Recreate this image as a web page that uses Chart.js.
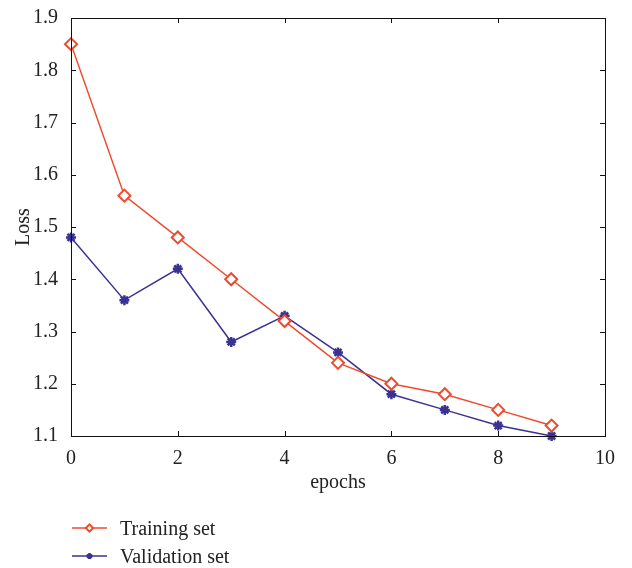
<!DOCTYPE html>
<html>
<head>
<meta charset="utf-8">
<script src="https://cdn.jsdelivr.net/npm/chart.js@4.4.0/dist/chart.umd.min.js"></script>
<style>
  html, body { margin: 0; padding: 0; background: #fff; }
  #wrap { width: 632px; height: 568px; }
</style>
</head>
<body>
<div id="wrap"><canvas id="chart-line"></canvas></div>
<script>
const epochs = [0, 1, 2, 3, 4, 5, 6, 7, 8, 9];
const trainingLoss = [1.85, 1.56, 1.48, 1.40, 1.32, 1.24, 1.20, 1.18, 1.15, 1.12];
const validationLoss = [1.48, 1.36, 1.42, 1.28, 1.33, 1.26, 1.18, 1.15, 1.12, 1.10];
const xTicks = [0, 2, 4, 6, 8, 10];
const yTicks = [1.1, 1.2, 1.3, 1.4, 1.5, 1.6, 1.7, 1.8, 1.9];

const RED = '#f04a2c';
const BLUE = '#3a3293';
const FONT = '"Liberation Serif", "DejaVu Serif", serif';
const FS = 20;

// box around plot with inward ticks on all four sides
const boxPlugin = {
    id: 'box',
    afterDatasetsDraw(chart) {
        const { ctx, chartArea: a, scales } = chart;
        ctx.save();
        ctx.strokeStyle = '#111';
        ctx.lineWidth = 1;
        ctx.strokeRect(a.left + 0.5, a.top + 0.5, a.right - a.left, a.bottom - a.top);
        const len = 5;
        ctx.beginPath();
        xTicks.forEach(v => {
            const x = Math.round(scales.x.getPixelForValue(v)) + 0.5;
            ctx.moveTo(x, a.bottom); ctx.lineTo(x, a.bottom - len);
            ctx.moveTo(x, a.top); ctx.lineTo(x, a.top + len);
        });
        yTicks.forEach(v => {
            const y = Math.round(scales.y.getPixelForValue(v)) + 0.5;
            ctx.moveTo(a.left, y); ctx.lineTo(a.left + len, y);
            ctx.moveTo(a.right, y); ctx.lineTo(a.right - len, y);
        });
        ctx.stroke();
        ctx.restore();
    }
};

// legend below the axis title, line + marker + label
const legendPlugin = {
    id: 'bottomLegend',
    afterDraw(chart) {
        const ctx = chart.ctx;
        const x0 = 72, x1 = 107, rows = [528, 556];
        chart.data.datasets.forEach((ds, i) => {
            const y = rows[i];
            ctx.save();
            ctx.strokeStyle = ds.borderColor;
            ctx.lineWidth = 1.5;
            ctx.beginPath();
            ctx.moveTo(x0, y); ctx.lineTo(x1, y);
            ctx.stroke();
            ctx.fillStyle = ds.pointBackgroundColor;
            ctx.strokeStyle = ds.borderColor;
            ctx.lineWidth = ds.pointBorderWidth;
            Chart.helpers.drawPoint(ctx, {
                pointStyle: ds.pointStyle,
                radius: ds.pointRadius * 0.6,
                borderWidth: ds.pointBorderWidth
            }, (x0 + x1) / 2, y);
            ctx.fillStyle = '#222';
            ctx.font = FS + 'px ' + FONT;
            ctx.textBaseline = 'middle';
            ctx.fillText(ds.label, 120, y + 2);
            ctx.restore();
        });
    }
};

const ctx = document.getElementById('chart-line').getContext('2d');
new Chart(ctx, {
    type: 'line',
    data: {
        datasets: [{
            label: 'Training set',
            data: epochs.map((e, i) => ({ x: e, y: trainingLoss[i] })),
            borderColor: RED,
            backgroundColor: RED,
            pointBackgroundColor: '#fff',
            pointStyle: 'rectRot',
            pointRadius: 6,
            pointBorderWidth: 2,
            borderWidth: 1.5,
            tension: 0
        }, {
            label: 'Validation set',
            data: epochs.map((e, i) => ({ x: e, y: validationLoss[i] })),
            borderColor: BLUE,
            backgroundColor: BLUE,
            pointBackgroundColor: BLUE,
            pointStyle: 'star',
            pointRadius: 5,
            pointBorderWidth: 2.5,
            borderWidth: 1.5,
            tension: 0
        }]
    },
    options: {
        responsive: true,
        maintainAspectRatio: false,
        animation: false,
        clip: false,
        layout: { padding: { top: 18, right: 27, bottom: 73, left: 0 } },
        plugins: {
            legend: { display: false },
            tooltip: { enabled: false }
        },
        scales: {
            x: {
                type: 'linear',
                min: 0,
                max: 10,
                afterFit: s => { s.height = 59; },
                afterBuildTicks: s => { s.ticks = xTicks.map(v => ({ value: v })); },
                grid: { display: false },
                border: { display: false },
                ticks: { padding: 3, color: '#222', font: { family: FONT, size: FS } },
                title: {
                    display: true, text: 'epochs', color: '#222',
                    padding: 0, font: { family: FONT, size: FS }
                }
            },
            y: {
                min: 1.1,
                max: 1.9,
                afterFit: s => { s.width = 71; },
                afterBuildTicks: s => { s.ticks = yTicks.map(v => ({ value: v })); },
                grid: { display: false },
                border: { display: false },
                ticks: {
                    padding: 5, color: '#222', font: { family: FONT, size: FS },
                    callback: v => v.toFixed(1)
                },
                title: {
                    display: true, text: 'Loss', color: '#222',
                    padding: { top: 12, bottom: 0 }, font: { family: FONT, size: FS }
                }
            }
        }
    },
    plugins: [boxPlugin, legendPlugin]
});
</script>
</body>
</html>
